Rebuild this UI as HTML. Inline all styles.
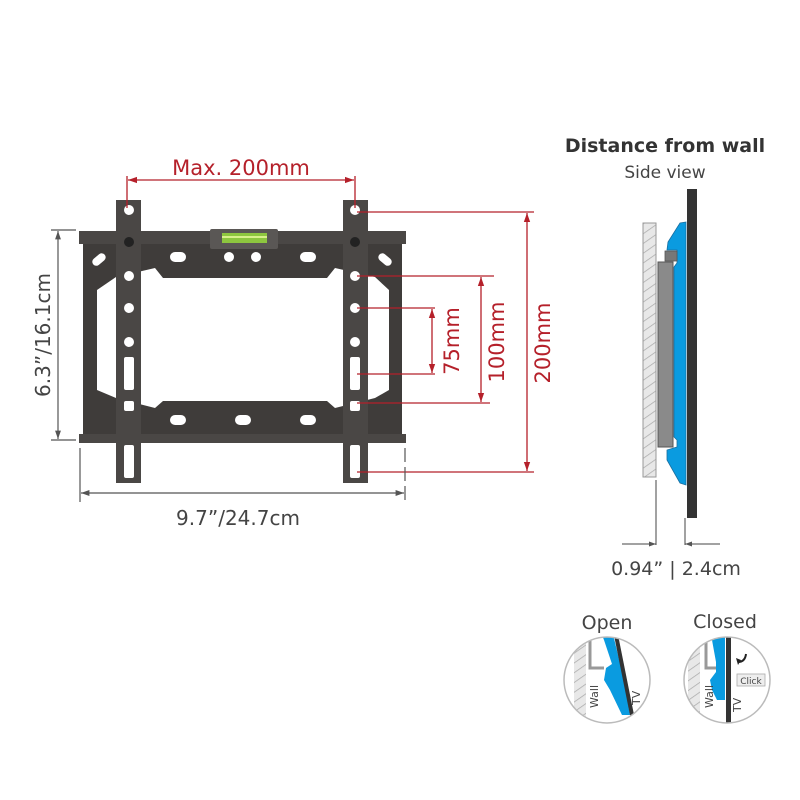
<!DOCTYPE html>
<html><head><meta charset="utf-8"><style>
html,body{margin:0;padding:0;background:#fff;}
svg{display:block;}
text{font-family:"DejaVu Sans","Liberation Sans",sans-serif;}
</style></head><body>
<svg width="800" height="800" viewBox="0 0 800 800" xmlns="http://www.w3.org/2000/svg">
<defs>
<marker id="ar" viewBox="0 0 10 10" refX="10" refY="5" markerWidth="7" markerHeight="7" orient="auto-start-reverse"><path d="M0,1.5L10,5L0,8.5z" fill="#b5202a"/></marker>
<marker id="ag" viewBox="0 0 10 10" refX="10" refY="5" markerWidth="7" markerHeight="7" orient="auto-start-reverse"><path d="M0,1.5L10,5L0,8.5z" fill="#555"/></marker>
<pattern id="hatch" width="8" height="8" patternUnits="userSpaceOnUse" patternTransform="rotate(-35)"><rect width="8" height="8" fill="#e8e8e8"/><line x1="0" y1="0" x2="8" y2="0" stroke="#aaa" stroke-width="1.5"/></pattern>
<clipPath id="c1"><circle cx="607" cy="680" r="43"/></clipPath>
<clipPath id="c2"><circle cx="727" cy="680" r="43"/></clipPath>
</defs>

<!-- bracket frame -->
<rect x="79" y="231" width="327" height="13" fill="#4a4745"/>
<rect x="83" y="244" width="319" height="190" fill="#3f3c3a"/>
<rect x="79" y="434" width="327" height="9" fill="#4a4745"/>
<polygon points="97,290 116,277 155,268 163,278 327,278 335,268 375,277 389,290 389,390 375,398 335,408 327,401 163,401 155,408 116,398 97,390" fill="#fff"/>
<!-- level -->
<rect x="210" y="229" width="68" height="20" rx="2" fill="#5a5755"/>
<rect x="222" y="233" width="45" height="10" fill="#8dc63f"/>
<rect x="222" y="236" width="45" height="2" fill="#d8f08a"/>
<!-- frame holes -->
<g fill="#fff">
<rect x="170" y="252" width="16" height="10" rx="5"/>
<rect x="300" y="252" width="16" height="10" rx="5"/>
<circle cx="229" cy="257" r="5"/><circle cx="256" cy="257" r="5"/>
<rect x="170" y="415" width="16" height="10" rx="5"/>
<rect x="235" y="415" width="16" height="10" rx="5"/>
<rect x="300" y="415" width="16" height="10" rx="5"/>
<rect x="92" y="255" width="15" height="8" rx="4" transform="rotate(-40 100 260)"/>
<rect x="377" y="255" width="15" height="8" rx="4" transform="rotate(40 384 260)"/>
</g>
<!-- rails -->
<rect x="116" y="200" width="25" height="283" fill="#4a4745"/>
<rect x="343" y="200" width="25" height="283" fill="#4a4745"/>
<g fill="#fff">
<circle cx="129" cy="210" r="5"/><circle cx="355" cy="210" r="5"/>
<circle cx="129" cy="276" r="5"/><circle cx="355" cy="276" r="5"/>
<circle cx="129" cy="308" r="5"/><circle cx="355" cy="308" r="5"/>
<circle cx="129" cy="342" r="5"/><circle cx="355" cy="342" r="5"/>
<rect x="124" y="357" width="10" height="33" rx="2"/><rect x="350" y="357" width="10" height="33" rx="2"/>
<rect x="124" y="401" width="10" height="10" rx="2"/><rect x="350" y="401" width="10" height="10" rx="2"/>
<rect x="124" y="445" width="10" height="33" rx="2"/><rect x="350" y="445" width="10" height="33" rx="2"/>
</g>
<circle cx="129" cy="242" r="5" fill="#222"/><circle cx="355" cy="242" r="5" fill="#222"/>

<!-- red dimensions -->
<g stroke="#b5202a" stroke-width="1.3" fill="none">
<line x1="127" y1="176" x2="127" y2="208"/><line x1="355" y1="176" x2="355" y2="208"/>
<line x1="128" y1="180" x2="354" y2="180" marker-start="url(#ar)" marker-end="url(#ar)"/>
<line x1="357" y1="212" x2="534" y2="212"/><line x1="357" y1="472" x2="534" y2="472"/>
<line x1="527" y1="213" x2="527" y2="471" marker-start="url(#ar)" marker-end="url(#ar)"/>
<line x1="357" y1="276" x2="494" y2="276"/><line x1="357" y1="403" x2="490" y2="403"/>
<line x1="481" y1="277" x2="481" y2="402" marker-start="url(#ar)" marker-end="url(#ar)"/>
<line x1="357" y1="308" x2="435" y2="308"/><line x1="357" y1="374" x2="435" y2="374"/>
<line x1="432" y1="309" x2="432" y2="373" marker-start="url(#ar)" marker-end="url(#ar)"/>
</g>
<g fill="#b5202a" font-size="21">
<text x="241" y="175" text-anchor="middle">Max. 200mm</text>
<text transform="translate(459,341) rotate(-90)" text-anchor="middle">75mm</text>
<text transform="translate(504,342) rotate(-90)" text-anchor="middle">100mm</text>
<text transform="translate(550,343) rotate(-90)" text-anchor="middle">200mm</text>
</g>
<!-- grey dims -->
<g stroke="#555" stroke-width="1.2" fill="none">
<line x1="51" y1="230" x2="76" y2="230"/><line x1="51" y1="440" x2="76" y2="440"/>
<line x1="58" y1="231" x2="58" y2="439" marker-start="url(#ag)" marker-end="url(#ag)"/>
<line x1="80" y1="448" x2="80" y2="502"/><line x1="405" y1="448" x2="405" y2="502" stroke-dasharray="14,5"/>
<line x1="81" y1="493" x2="404" y2="493" marker-start="url(#ag)" marker-end="url(#ag)"/>
</g>
<g fill="#444" font-size="20">
<text transform="translate(50,335) rotate(-90)" text-anchor="middle">6.3”/16.1cm</text>
<text x="238" y="525" text-anchor="middle">9.7”/24.7cm</text>
</g>

<!-- side view -->
<text x="665" y="152" text-anchor="middle" font-size="19" font-weight="bold" fill="#333">Distance from wall</text>
<text x="665" y="178" text-anchor="middle" font-size="17" fill="#444">Side view</text>
<rect x="643" y="223" width="13" height="254" fill="url(#hatch)" stroke="#999" stroke-width="1"/>
<polygon points="686,222 680,223 668,242 667,250 677,250 677,263 674,267 674,437 677,440 677,447 667,450 667,460 680,483 686,485" fill="#0a9be0" stroke="#1a6fa0" stroke-width="0.8"/>
<rect x="665" y="251" width="12" height="10" fill="#777" stroke="#555" stroke-width="0.8"/>
<rect x="658" y="262" width="15" height="185" fill="#8a8a8a" stroke="#555" stroke-width="1"/>
<rect x="687" y="189" width="10" height="329" fill="#333"/>
<g stroke="#444" stroke-width="1" fill="none">
<line x1="656" y1="480" x2="656" y2="545"/><line x1="685" y1="518" x2="685" y2="545"/>
<line x1="622" y1="544" x2="656" y2="544" marker-end="url(#ag)"/>
<line x1="720" y1="544" x2="685" y2="544" marker-end="url(#ag)"/>
</g>
<text x="676" y="575" text-anchor="middle" font-size="19" fill="#444">0.94” | 2.4cm</text>

<!-- open/closed -->
<text x="607" y="629" text-anchor="middle" font-size="19" fill="#444">Open</text>
<text x="725" y="628" text-anchor="middle" font-size="19" fill="#444">Closed</text>
<g clip-path="url(#c1)">
<rect x="560" y="635" width="95" height="90" fill="#fff"/>
<rect x="574" y="630" width="12" height="100" fill="url(#hatch)"/>
<path d="M590,636 L590,668 L604,668" fill="none" stroke="#999" stroke-width="3"/>
<polygon points="600,630 612,630 624,680 630,715 622,715 610,690 604,680 606,668 612,664 604,640" fill="#0a9be0"/>
<line x1="616" y1="635" x2="632" y2="715" stroke="#333" stroke-width="4"/>
<text transform="translate(598,708) rotate(-90)" font-size="11" fill="#444">Wall</text>
<text transform="translate(640,705) rotate(-90)" font-size="11" fill="#444">TV</text>
</g>
<circle cx="607" cy="680" r="43" fill="none" stroke="#bbb" stroke-width="1.5"/>
<g clip-path="url(#c2)">
<rect x="680" y="635" width="95" height="90" fill="#fff"/>
<rect x="688" y="630" width="12" height="100" fill="url(#hatch)"/>
<path d="M706,636 L706,668 L718,668" fill="none" stroke="#999" stroke-width="3"/>
<polygon points="715,630 725,630 725,700 717,700 712,690 710,680 716,672 716,662 712,640" fill="#0a9be0"/>
<rect x="726" y="630" width="5" height="100" fill="#333"/>
<rect x="737" y="674" width="28" height="12" fill="#eee" stroke="#aaa" stroke-width="0.8"/>
<text x="751" y="684" text-anchor="middle" font-size="9" fill="#444">Click</text>
<path d="M746,654 Q745,662 738,662" fill="none" stroke="#222" stroke-width="2"/>
<path d="M736,658 L738,665 L741,660z" fill="#222"/>
<text transform="translate(713,708) rotate(-90)" font-size="11" fill="#444">Wall</text>
<text transform="translate(741,712) rotate(-90)" font-size="11" fill="#444">TV</text>
</g>
<circle cx="727" cy="680" r="43" fill="none" stroke="#bbb" stroke-width="1.5"/>
</svg>
</body></html>
